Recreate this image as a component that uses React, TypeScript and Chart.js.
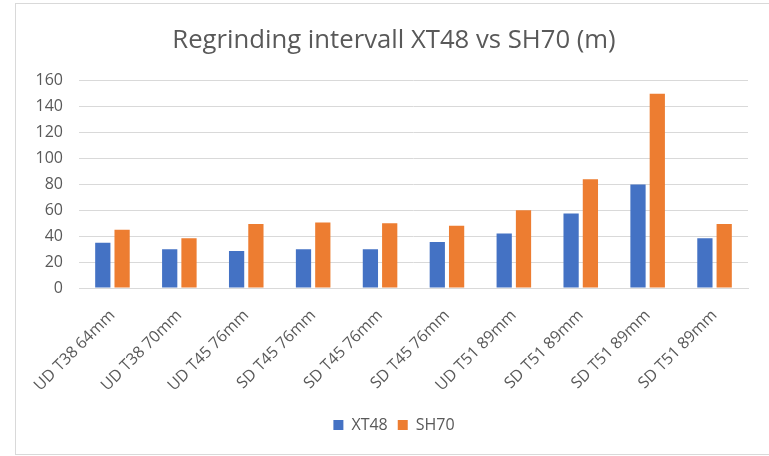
import React, { useEffect, useRef } from "react";
import { Chart, registerables } from "chart.js";

Chart.register(...registerables);

const categories = [
  "UD T38 64mm",
  "UD T38 70mm",
  "UD T45 76mm",
  "SD T45 76mm",
  "SD T45 76mm",
  "SD T45 76mm",
  "UD T51 89mm",
  "SD T51 89mm",
  "SD T51 89mm",
  "SD T51 89mm",
];
const xt48 = [35, 30, 28.5, 30, 30, 35.5, 42, 57.5, 80, 38.5];
const sh70 = [45, 38.5, 49.5, 50.5, 50, 48, 60, 84, 150, 49.5];
const yTicks = [0, 20, 40, 60, 80, 100, 120, 140, 160];

const FONT = "'Open Sans', 'Noto Sans', sans-serif";
const TXT = "#595959";
const GRID = "#d9d9d9";

export default function App() {
  const ref = useRef<HTMLCanvasElement | null>(null);
  useEffect(() => {
    if (!ref.current) return;
    const chart = new Chart(ref.current, {
      type: "bar",
      data: {
        labels: categories,
        datasets: [
          {
            label: "XT48",
            data: xt48,
            backgroundColor: "#4472C4",
            barPercentage: 0.79,
            categoryPercentage: 0.577,
          },
          {
            label: "SH70",
            data: sh70,
            backgroundColor: "#ED7D31",
            barPercentage: 0.79,
            categoryPercentage: 0.577,
          },
        ],
      },
      options: {
        animation: false,
        responsive: true,
        maintainAspectRatio: false,
        layout: { padding: { left: 0, right: 0, top: 0, bottom: 11 } },
        plugins: {
          title: {
            display: true,
            text: "Regrinding intervall XT48 vs SH70 (m)",
            color: TXT,
            font: { family: FONT, size: 25.7, weight: "normal" },
            padding: { top: 21, bottom: 25 },
          },
          legend: {
            position: "bottom",
            labels: {
              color: TXT,
              font: { family: FONT, size: 16 },
              boxWidth: 10,
              boxHeight: 10,
              padding: 10,
            },
          },
          tooltip: { enabled: false },
        },
        scales: {
          x: {
            grid: { display: false },
            border: { display: true, color: GRID, width: 1 },
            ticks: {
              color: TXT,
              font: { family: FONT, size: 16 },
              minRotation: 45,
              maxRotation: 45,
              autoSkip: false,
              padding: 10,
            },
            afterFit: (s: any) => {
              s.height = 119;
            },
          },
          y: {
            min: 0,
            max: 160,
            afterBuildTicks: (s: any) => {
              s.ticks = yTicks.map((v) => ({ value: v }));
            },
            grid: { color: GRID, lineWidth: 1, drawTicks: false },
            border: { display: false },
            ticks: {
              color: TXT,
              font: { family: FONT, size: 16 },
              padding: 16,
            },
            afterFit: (s: any) => {
              s.width = 63;
            },
          },
          gap: {
            position: "right",
            display: true,
            grid: { display: false, drawTicks: false },
            border: { display: false },
            ticks: { display: false },
            afterFit: (s: any) => {
              s.width = 24;
            },
          },
        },
      },
    });
    return () => chart.destroy();
  }, []);

  return (
    <div
      style={{
        position: "fixed",
        left: 0,
        top: 0,
        width: 769,
        height: 456,
        overflow: "hidden",
        background: "#fff",
      }}
    >
      <div
        style={{
          position: "absolute",
          left: 15,
          top: 3,
          width: 756,
          height: 450,
          borderTop: "1px solid #d9d9d9",
          borderLeft: "1px solid #d9d9d9",
          borderBottom: "1px solid #d9d9d9",
          background: "#fff",
        }}
      >
        <canvas ref={ref} />
      </div>
    </div>
  );
}
